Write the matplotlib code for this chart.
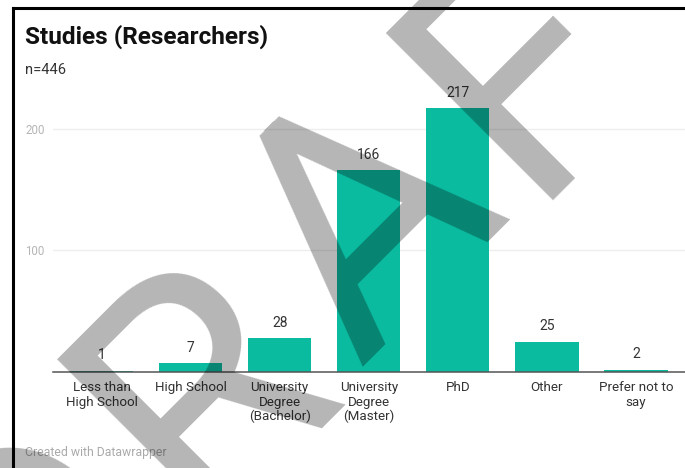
import matplotlib.pyplot as plt
from matplotlib.lines import Line2D

# data
categories = ['Less than\nHigh School', 'High School', 'University\nDegree\n(Bachelor)',
              'University\nDegree\n(Master)', 'PhD', 'Other', 'Prefer not to\nsay']
counts = [1, 7, 28, 166, 217, 25, 2]
grid_ticks = [100, 200]

bar_color = '#0bbba0'
text_color = '#333333'

plt.rcParams['font.family'] = ['Roboto', 'DejaVu Sans']

fig = plt.figure(figsize=(6.85, 4.68), dpi=100)
W, H = 685, 468

# axes placed in pixel terms: x from 53 to 685, zero line at y=372
ax = fig.add_axes([53 / W, 96 / H, 632 / W, 272 / H])
x = list(range(len(categories)))
bars = ax.bar(x, counts, width=0.71, color=bar_color, zorder=2)

ax.set_xlim(-0.545, 6.55)
ax.set_ylim(0, 272 / 1.215)

# value labels above the bars
for xi, v in zip(x, counts):
    ax.annotate(str(v), (xi, v), xytext=(0, 6), textcoords='offset points',
                ha='center', va='bottom', fontsize=10, color=text_color)

# gridlines and axis
ax.set_yticks(grid_ticks)
ax.set_yticklabels([str(t) for t in grid_ticks])
ax.tick_params(axis='y', length=0, pad=6, labelsize=8.3, labelcolor='#b5b5b5')
ax.tick_params(axis='x', length=0, pad=6.5, labelsize=9.6, labelcolor=text_color)
ax.set_xticks(x)
ax.set_xticklabels(categories, linespacing=1.15)
ax.grid(axis='y', color='#eeeeee', linewidth=1, zorder=0)
for s in ['top', 'right', 'left']:
    ax.spines[s].set_visible(False)
ax.spines['bottom'].set_color('#555555')
ax.spines['bottom'].set_linewidth(1.1)
ax.spines['bottom'].set_zorder(3)

# header and footer
fig.text(25 / W, 1 - 44 / H, 'Studies (Researchers)', fontsize=17.6, fontweight='bold',
         color='#111111', ha='left', va='baseline')
fig.text(25 / W, 1 - 74 / H, 'n=446', fontsize=10.5, color=text_color,
         ha='left', va='baseline')
fig.text(25 / W, 1 - 456 / H, 'Created with Datawrapper', fontsize=8.8,
         color='#aaaaaa', ha='left', va='baseline')

# black frame on top and left edge
fig.add_artist(Line2D([13 / W, 1], [1 - 8 / H, 1 - 8 / H], color='black', linewidth=2.2))
fig.add_artist(Line2D([13 / W, 13 / W], [0, 1 - 8 / H], color='black', linewidth=2.2))

# DRAFT watermark, 45 degrees, letters placed one by one
# u = distance along the reading direction, base = x+y of the baseline (pixels)
letters = ['D', 'R', 'A', 'F', 'T']
letter_u = [-470, -233, -6, 230, 440]
base = 725
for ch, u in zip(letters, letter_u):
    px = (base + 1.414 * u) / 2
    py = (base - 1.414 * u) / 2
    fig.text(px / W, 1 - py / H, ch, fontsize=240, color='black', alpha=0.29,
             rotation=45, rotation_mode='anchor', ha='left', va='baseline', zorder=10)

fig.savefig('out.png', dpi=100)
